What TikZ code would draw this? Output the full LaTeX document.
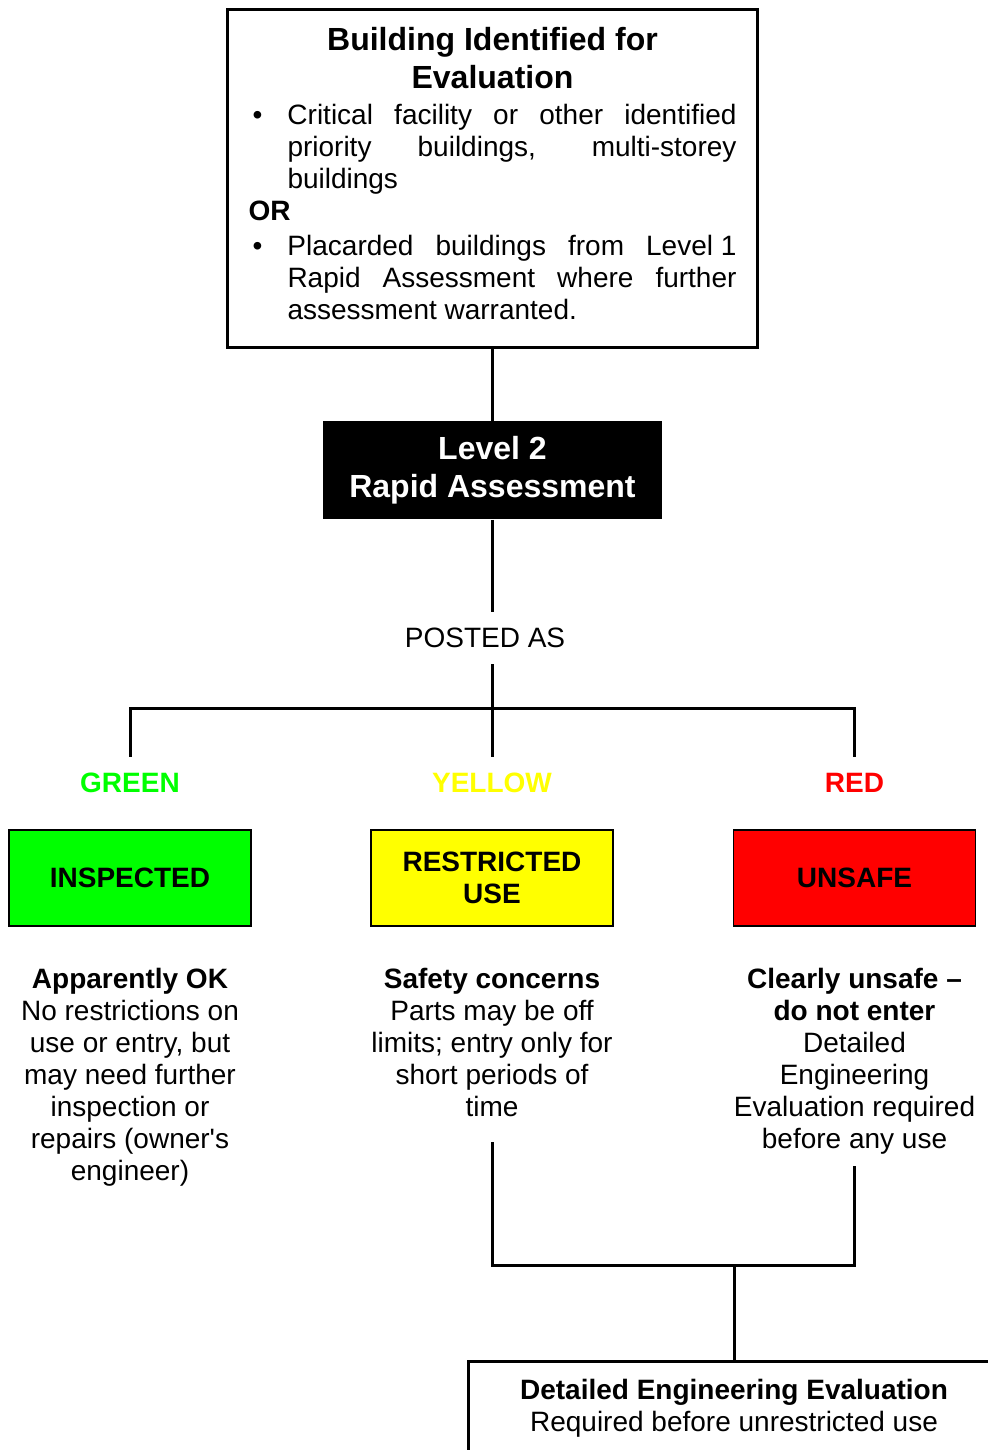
\documentclass[tikz,border=0pt]{standalone}
\usepackage{fontspec}
\setmainfont{Liberation Sans}
\usepackage{xcolor}
\usetikzlibrary{positioning}

\definecolor{placardgreen}{HTML}{00FF00}
\definecolor{placardyellow}{HTML}{FFFF00}
\definecolor{placardred}{HTML}{FF0000}
\newcommand{\bodyfont}{\fontsize{14}{16}\selectfont}
\newcommand{\headfont}{\fontsize{16}{19}\selectfont\bfseries}
\newcommand{\listmark}{\makebox[19.5pt][l]{\hspace{2pt}\textbullet}}

\begin{document}
\begin{tikzpicture}[
        x=0.5pt, y=-0.5pt,
        node distance=10pt,
        every node/.style={font=\bodyfont},
        frame/.style={rectangle, draw, line width=1.5pt, inner xsep=10.5pt},
        dark/.style={rectangle, fill=black, text=white, font=\headfont, minimum width=169.5pt, minimum height=49pt, align=center},
        tag/.style={font=\bodyfont\bfseries, inner ysep=8pt},
        sign/.style={rectangle, draw, line width=0.8pt, minimum width=121pt, minimum height=48pt, align=center, font=\bodyfont\bfseries},
        note/.style={align=center, inner ysep=11pt},
        link/.style={line width=1.5pt}
    ]
        \useasboundingbox (0,0) rectangle (988,1450);
        \clip (0,0) rectangle (988,1450);

        \node[frame, anchor=north, text width=244pt, minimum height=169pt, align=justify] (bldg) at (492.5,8) {%
            \parindent=0pt
            {\centering\headfont Building Identified for\par Evaluation\par}
            \vspace{2pt}
            \noindent\hangindent=19.5pt\hangafter=1\listmark Critical facility or other identified\linebreak priority buildings, multi-storey\linebreak buildings\par
            \noindent\textbf{OR}\par
            \vspace{1.5pt}
            \noindent\hangindent=19.5pt\hangafter=1\listmark Placarded buildings from \mbox{Level 1}\linebreak Rapid Assessment where further\linebreak assessment warranted.\par
            \kern5pt};
        \node[dark, below=36pt of bldg] (level2) {Level 2\\Rapid Assessment};
        \node[inner ysep=8pt] (posted) at (485,638) {POSTED AS};
        \coordinate (split) at (492,708);

        \node[tag, text=placardgreen] (gtag) at (130,783) {GREEN};
        \node[tag, text=placardyellow] (ytag) at (492,783) {YELLOW};
        \node[tag, text=placardred] (rtag) at (854.5,783) {RED};

        \node[sign, fill=placardgreen, below=of gtag] (gsign) {INSPECTED};
        \node[sign, fill=placardyellow, below=of ytag] (ysign) {RESTRICTED\\USE};
        \node[sign, fill=placardred, below=of rtag] (rsign) {UNSAFE};

        \node[note, below=9.5pt of gsign] (gnote) {\textbf{Apparently OK}\\No restrictions on\\use or entry, but\\may need further\\inspection or\\repairs (owner\textquotesingle s\\engineer)};
        \node[note, below=9.5pt of ysign] (ynote) {\textbf{Safety concerns}\\Parts may be off\\limits; entry only for\\short periods of\\time};
        \node[note, below=9.5pt of rsign] (rnote) {\textbf{Clearly unsafe --}\\\textbf{do not enter}\\Detailed\\Engineering\\Evaluation required\\before any use};

        \coordinate (merge) at (734,1265);
        \node[frame, anchor=north, minimum width=266pt, inner ysep=9pt, text depth=40pt, align=center] (detail) at (734,1360) {\textbf{Detailed Engineering Evaluation}\\Required before unrestricted use};

        \draw[link] (bldg) -- (level2);
        \draw[link] (level2.south) -- (level2.south |- posted.north);
        \draw[link] (posted.south -| ytag.north) -- (ytag.north);
        \draw[link] (gtag.north) |- (split) -| (rtag.north);
        \draw[link, shorten <=1.5pt, shorten >=-5.5pt] (ynote.south) |- (merge) -| (rnote.south);
        \draw[link] (merge) -- (detail);
    \end{tikzpicture}
\end{document}
